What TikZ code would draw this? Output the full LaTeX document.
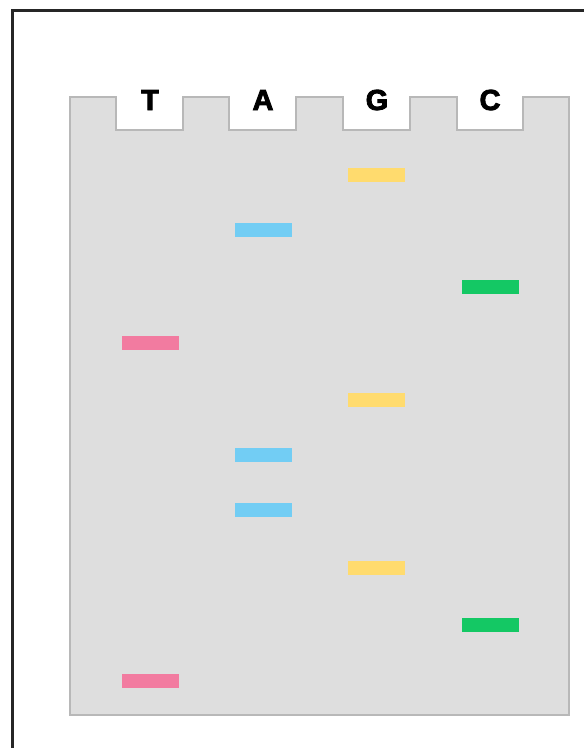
\documentclass[tikz,border=0pt]{standalone}
\usepackage{fontspec}
\setmainfont{Liberation Sans}
\newfontfamily\heavyfont[FakeBold=3]{Liberation Sans}
\definecolor{gelfill}{HTML}{DEDEDE}
\definecolor{geledge}{HTML}{B8B8B8}
\definecolor{bandT}{HTML}{F27BA0}
\definecolor{bandA}{HTML}{72CDF4}
\definecolor{bandG}{HTML}{FFDB6E}
\definecolor{bandC}{HTML}{14C864}
\begin{document}
\begin{tikzpicture}[x=1pt,y=-1pt,
  band/.style={rectangle,inner sep=0pt,minimum width=57pt,minimum height=14pt},
  lanelabel/.style={font=\heavyfont\fontsize{29}{29}\selectfont\bfseries,inner sep=0pt,anchor=base}]
\useasboundingbox (0,0) rectangle (584,748);
\clip (0,0) rectangle (584,748);
\fill[white] (0,0) rectangle (584,748);
% outer frame
\draw[line width=3pt,black!85] (12,800) -- (12,10) -- (640,10);
% gel with wells
\draw[fill=gelfill,draw=geledge,line width=1.5pt]
  (70,715) -- (70,97) -- (116,97) -- (116,130) -- (183,130) -- (183,97)
  -- (229,97) -- (229,130) -- (296,130) -- (296,97)
  -- (343,97) -- (343,130) -- (410,130) -- (410,97)
  -- (457,97) -- (457,130) -- (523,130) -- (523,97)
  -- (569,97) -- (569,715) -- cycle;
% lane labels
\node[lanelabel] (lT) at (150,110) {T};
\node[lanelabel] (lA) at (263,110) {A};
\node[lanelabel] (lG) at (377,110) {G};
\node[lanelabel] (lC) at (490,110) {C};
% bands
\node[band,fill=bandG] (g1) at (376,175) {};
\node[band,fill=bandA] (a1) at (263,230) {};
\node[band,fill=bandC] (c1) at (490,287) {};
\node[band,fill=bandT] (t1) at (150,343) {};
\node[band,fill=bandG] (g2) at (376,400) {};
\node[band,fill=bandA] (a2) at (263,455) {};
\node[band,fill=bandA] (a3) at (263,510) {};
\node[band,fill=bandG] (g3) at (376,568) {};
\node[band,fill=bandC] (c2) at (490,625) {};
\node[band,fill=bandT] (t2) at (150,681) {};
\end{tikzpicture}
\end{document}
